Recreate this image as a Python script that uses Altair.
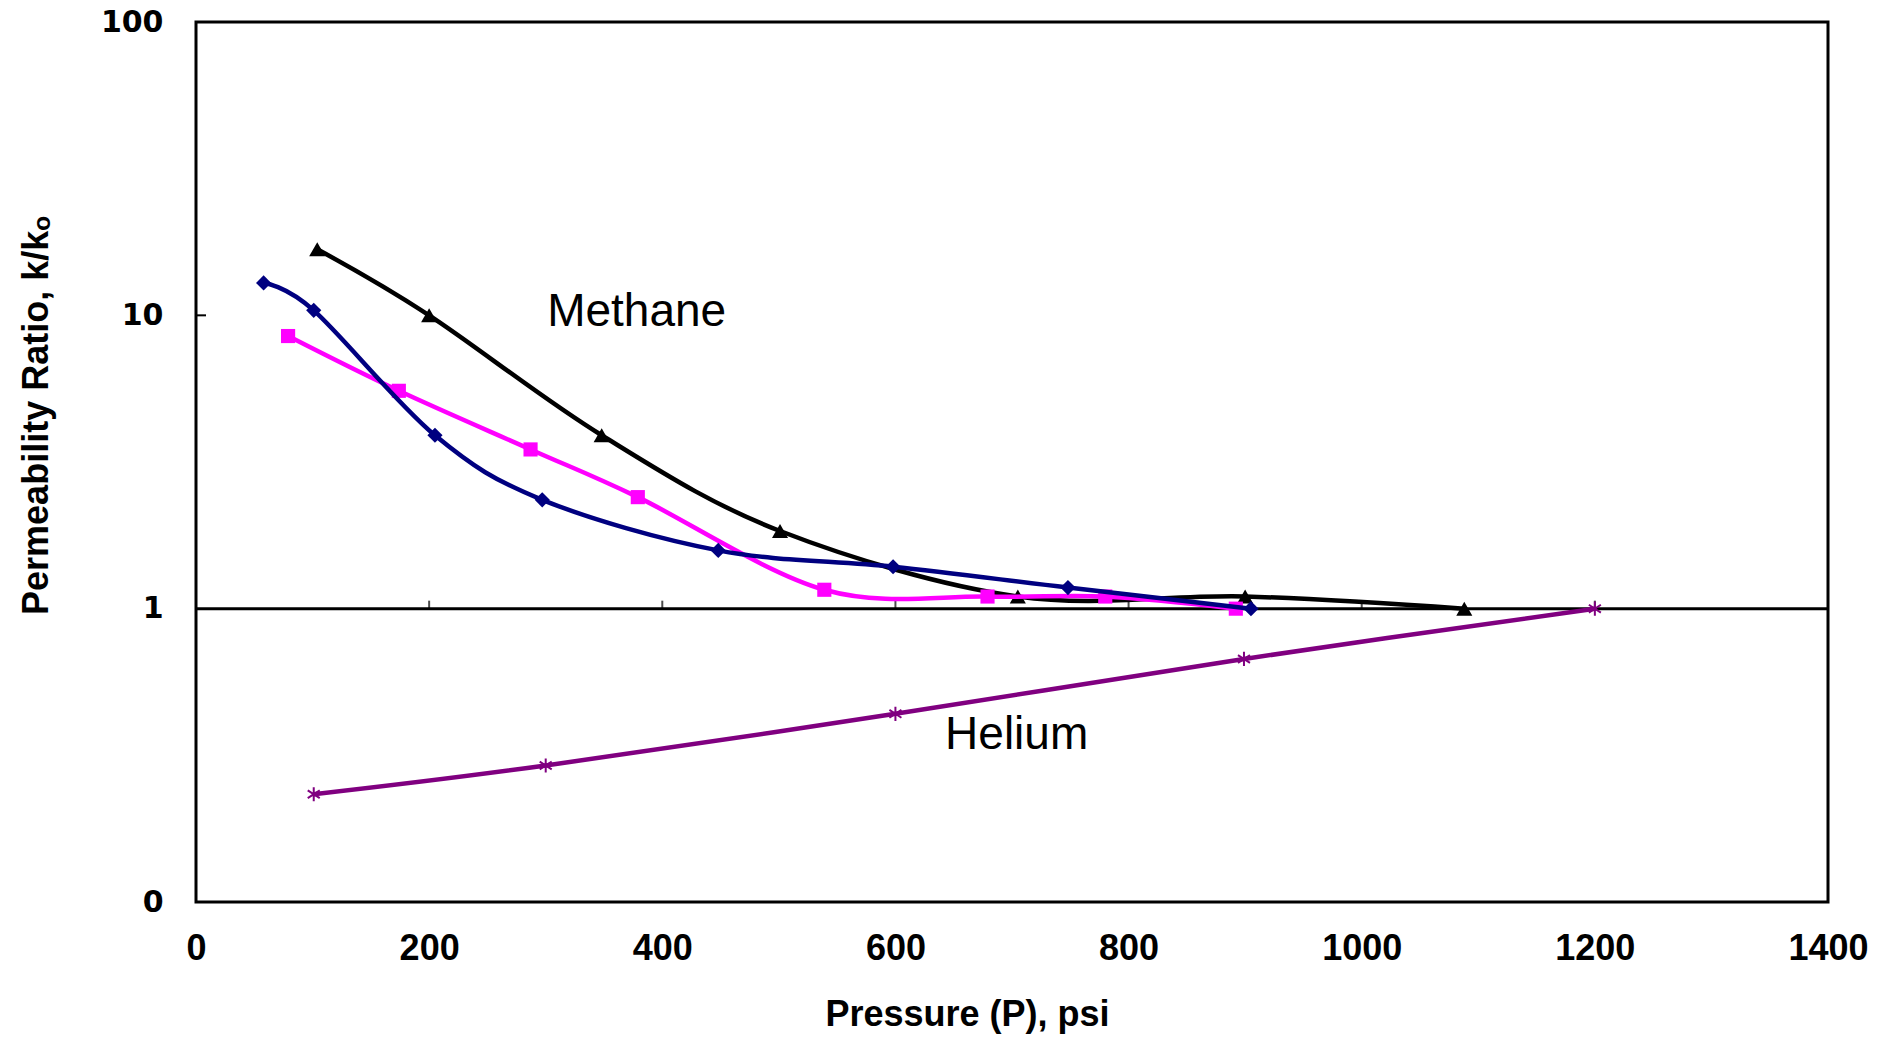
import altair as alt
import pandas as pd

# Pressure (psi) and permeability ratio k/ko for each series
methane_p = [104, 200, 348, 501, 705, 900, 1088]
methane_k = [16.8, 10.0, 3.9, 1.84, 1.1, 1.1, 1.0]

navy_p = [58, 101, 205, 297, 448, 598, 748, 905]
navy_k = [12.9, 10.4, 3.9, 2.35, 1.58, 1.39, 1.18, 1.0]

magenta_p = [79, 174, 287, 379, 539, 679, 780, 892]
magenta_k = [8.5, 5.53, 3.49, 2.4, 1.16, 1.1, 1.1, 1.0]

helium_p = [101, 300, 600, 899, 1200]
helium_k = [0.233, 0.292, 0.438, 0.674, 1.0]

x_ticks = [0, 200, 400, 600, 800, 1000, 1200, 1400]
y_ticks = [0.1, 1, 10, 100]

ASTERISK = "M0,-1L0,1M-0.85,-0.55L0.85,0.55M-0.85,0.55L0.85,-0.55"

series = [
    ("Helium", helium_p, helium_k, "#800080", ASTERISK, 200, False),
    ("Methane", methane_p, methane_k, "#000000", "triangle-up", 260, True),
    ("Magenta", magenta_p, magenta_k, "#FF00FF", "square", 200, True),
    ("Navy", navy_p, navy_k, "#000080", "diamond", 230, True),
]

x_scale = alt.Scale(domain=[0, 1400], nice=False, zero=False)
y_scale = alt.Scale(type="log", domain=[0.1, 100], nice=False)

x_axis = alt.Axis(
    values=x_ticks, format="d", grid=False, ticks=False, tickSize=0, domain=False,
    labelFlush=False,
    labelFont="Liberation Sans", labelFontWeight="bold", labelFontSize=36,
    labelColor="black", labelPadding=46, labelBaseline="middle",
    title="Pressure (P), psi", titleFont="Liberation Sans", titleFontWeight="bold",
    titleFontSize=36, titleColor="black", titleX=771, titleY=112,
    titleBaseline="middle", titleAlign="center",
)
y_axis = alt.Axis(
    values=y_ticks, grid=False, ticks=False, tickSize=0, domain=False,
    labelFlush=False,
    labelExpr="datum.value < 1 ? '0' : datum.label",
    labelFont="DejaVu Sans", labelFontWeight="bold", labelFontSize=30,
    labelColor="black", labelPadding=33, labelBaseline="middle",
    title="Permeability Ratio, k/kₒ", titleFont="Liberation Sans",
    titleFontWeight="bold", titleFontSize=36, titleColor="black",
    titleX=-160, titleY=393, titleAngle=270, titleAlign="center",
    titleBaseline="middle",
)

layers = []

# horizontal reference line at k/ko = 1 with upward ticks
one_df = pd.DataFrame({"x0": [0], "x1": [1400], "y": [1]})
layers.append(
    alt.Chart(one_df).mark_rule(color="black", strokeWidth=3).encode(
        x=alt.X("x0:Q", scale=x_scale, axis=x_axis),
        x2="x1:Q",
        y=alt.Y("y:Q", scale=y_scale, axis=y_axis),
    )
)
tick_df = pd.DataFrame({"p": x_ticks[1:-1], "y": [1] * (len(x_ticks) - 2)})
layers.append(
    alt.Chart(tick_df).mark_tick(color="black", orient="vertical", size=8,
                                  thickness=2, yOffset=-4).encode(
        x=alt.X("p:Q", scale=x_scale), y=alt.Y("y:Q", scale=y_scale)
    )
)
ytick_df = pd.DataFrame({"v": [10]})
layers.append(
    alt.Chart(ytick_df).mark_rule(color="black", strokeWidth=2).encode(
        y=alt.Y("v:Q", scale=y_scale), x=alt.value(0), x2=alt.value(10)
    )
)

for name, ps, ks, color, shape, size, filled in series:
    df = pd.DataFrame({"p": ps, "k": ks})
    base = alt.Chart(df).encode(
        x=alt.X("p:Q", scale=x_scale), y=alt.Y("k:Q", scale=y_scale)
    )
    layers.append(base.mark_line(color=color, strokeWidth=4.5,
                                 interpolate="cardinal"))
    if filled:
        layers.append(base.mark_point(shape=shape, size=size, filled=True,
                                      color=color, opacity=1))
    else:
        layers.append(base.mark_point(shape=shape, size=size, filled=False,
                                      color=color, strokeWidth=2, opacity=1))

# curve labels
label_df = pd.DataFrame({"p": [378, 704], "k": [10.3, 0.37],
                         "t": ["Methane", "Helium"]})
layers.append(
    alt.Chart(label_df).mark_text(font="Liberation Sans", fontSize=46,
                                  color="black", align="center",
                                  baseline="middle").encode(
        x=alt.X("p:Q", scale=x_scale), y=alt.Y("k:Q", scale=y_scale), text="t:N"
    )
)

chart = alt.layer(*layers).properties(
    width=1632, height=880,
    autosize=alt.AutoSizeParams(type="none"),
    padding={"left": 196, "top": 22, "right": 53, "bottom": 135},
    background="white",
).configure_view(stroke="black", strokeWidth=3)

chart.save("out.html", embed_options={"renderer": "svg", "actions": False})
